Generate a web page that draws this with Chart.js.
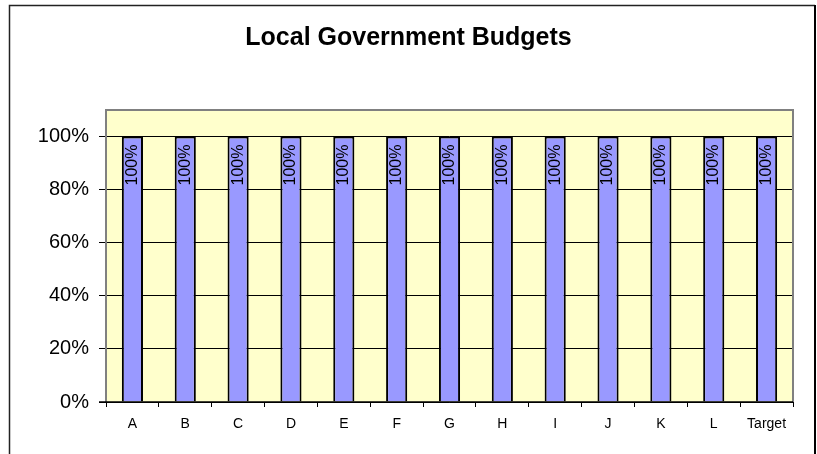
<!DOCTYPE html>
<html><head><meta charset="utf-8">
<script src="https://cdn.jsdelivr.net/npm/chart.js@4/dist/chart.umd.min.js"></script>
<style>html,body{margin:0;padding:0;background:#fff}</style>
</head><body>
<canvas id="c" width="817" height="454" style="display:block"></canvas>
<script>
const chartTitle = 'Local Government Budgets';
const categories = ['A','B','C','D','E','F','G','H','I','J','K','L','Target'];
const budgetShare = [1,1,1,1,1,1,1,1,1,1,1,1,1];
const yTickValues = [0,0.2,0.4,0.6,0.8,1.0];
const yMax = 1.1;

const FONT = '"Liberation Sans", Arial, sans-serif';

const bgPlugin = {
  id: 'bg',
  beforeDraw(chart) {
    const {ctx, chartArea: a} = chart;
    ctx.save();
    ctx.fillStyle = '#FFFFCC';
    ctx.fillRect(a.left, a.top, a.right - a.left, a.bottom - a.top);
    ctx.restore();
  },
  afterDatasetsDraw(chart) {
    const {ctx, chartArea: a} = chart;
    ctx.save();
    ctx.strokeStyle = '#808080';
    ctx.lineWidth = 2;
    ctx.beginPath();
    ctx.moveTo(a.left, a.bottom);
    ctx.lineTo(a.left, a.top);
    ctx.lineTo(a.right, a.top);
    ctx.lineTo(a.right, a.bottom);
    ctx.stroke();
    ctx.strokeStyle = '#000';
    ctx.lineWidth = 1.5;
    ctx.beginPath();
    ctx.moveTo(a.left - 7, a.bottom);
    ctx.lineTo(a.right, a.bottom);
    ctx.stroke();
    const meta = chart.getDatasetMeta(0);
    ctx.fillStyle = '#000';
    ctx.font = '16px ' + FONT;
    ctx.textAlign = 'right';
    ctx.textBaseline = 'middle';
    meta.data.forEach((bar, i) => {
      const v = chart.data.datasets[0].data[i];
      ctx.save();
      ctx.translate(bar.x, bar.y + 8);
      ctx.rotate(-Math.PI / 2);
      ctx.fillText(Math.round(v * 100) + '%', 0, 0);
      ctx.restore();
    });
    ctx.restore();
  },
  afterDraw(chart) {
    const ctx = chart.ctx;
    ctx.save();
    ctx.strokeStyle = '#222';
    ctx.lineWidth = 1.5;
    ctx.beginPath();
    ctx.moveTo(9.5, 470);
    ctx.lineTo(9.5, 5.5);
    ctx.lineTo(815, 5.5);
    ctx.stroke();
    ctx.strokeStyle = '#000';
    ctx.lineWidth = 2;
    ctx.beginPath();
    ctx.moveTo(815, 5);
    ctx.lineTo(815, 470);
    ctx.stroke();
    ctx.restore();
  }
};

new Chart(document.getElementById('c'), {
  type: 'bar',
  data: {
    labels: categories,
    datasets: [{
      data: budgetShare,
      backgroundColor: '#9999FF',
      borderColor: '#000',
      borderWidth: 2,
      barPercentage: 0.4,
      categoryPercentage: 1.0
    }]
  },
  options: {
    responsive: false,
    animation: false,
    devicePixelRatio: 1,
    layout: { padding: { left: 12, right: 12, top: 0, bottom: 0 } },
    plugins: {
      legend: { display: false },
      tooltip: { enabled: false },
      title: {
        display: true,
        text: chartTitle,
        color: '#000',
        font: { family: FONT, size: 25, weight: 'bold' },
        padding: { top: 23, bottom: 57 }
      }
    },
    scales: {
      x: {
        offset: true,
        grid: { display: true, drawOnChartArea: false, drawTicks: true, tickLength: 5, color: '#000', offset: true },
        border: { display: false },
        ticks: { color: '#000', font: { family: FONT, size: 14 }, padding: 9, maxRotation: 0, autoSkip: false },
        afterFit(s) { s.height = 52; }
      },
      y: {
        min: 0,
        max: yMax,
        afterBuildTicks(s) { s.ticks = yTickValues.map(v => ({ value: v })); },
        grid: { color: '#000', lineWidth: 1, tickLength: 7, drawTicks: true },
        border: { display: false },
        ticks: {
          color: '#000',
          font: { family: FONT, size: 20 },
          padding: 10,
          callback: v => Math.round(v * 100) + '%'
        },
        afterFit(s) { s.width = 94; }
      },
      spacer: {
        type: 'linear',
        position: 'right',
        display: true,
        grid: { display: false, drawTicks: false },
        border: { display: false },
        ticks: { display: false },
        afterFit(s) { s.width = 12; }
      }
    }
  },
  plugins: [bgPlugin]
});
</script>
</body></html>
